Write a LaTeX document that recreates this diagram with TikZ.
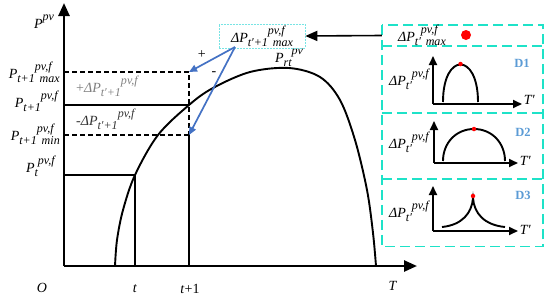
\documentclass[tikz,border=0pt]{standalone}
\usepackage{graphicx}
\usepackage{fontspec}
\setmainfont{Liberation Serif}
\usetikzlibrary{positioning,calc,arrows.meta}
\definecolor{arrowblue}{RGB}{68,114,196}
\definecolor{paneltq}{RGB}{30,226,200}
\definecolor{boxcyan}{RGB}{120,228,228}
\definecolor{dblue}{RGB}{91,155,213}
% script helpers for the labels
\newcommand{\sbs}[1]{\raisebox{-0.28em}{\scalebox{0.86}{#1}}}
\newcommand{\sps}[1]{\raisebox{0.56em}{\scalebox{0.86}{#1}}}
\newcommand{\pvA}[3]{\textit{#1\sbs{#2}\sps{#3}}}
\newcommand{\pvB}[4]{\textit{#1\sbs{#2}\rlap{\sps{#3}}\kern0.35em\sbs{#4}}}

\begin{document}
\begin{tikzpicture}[
    x=1pt, y=-1pt,
    lab/.style={font=\fontsize{14}{16}\selectfont, inner sep=1pt},
    small/.style={font=\fontsize{14}{16}\selectfont, inner sep=1pt},
    axis/.style={line width=2.5pt, -{Triangle[length=13pt, width=11pt]}},
    miniaxis/.style={line width=1.9pt, -{Triangle[length=9pt, width=8pt]}},
    curve/.style={line width=1.9pt},
    guide/.style={line width=1.6pt, dash pattern=on 5pt off 3pt},
    solidline/.style={line width=1.6pt},
    bluearrow/.style={arrowblue, line width=1.7pt, -{Triangle[length=8pt, width=7pt]}},
    panel/.style={paneltq, line width=1.8pt, dash pattern=on 10pt off 5pt},
    cell/.style={inner sep=0pt, minimum width=161pt},
    dot/.style={circle, fill=red, inner sep=0pt, minimum size=#1},
    dlab/.style={font=\bfseries\fontsize{12.5}{14}\selectfont, text=dblue},
]
\useasboundingbox (0,0) rectangle (550,298);

% Axes
\coordinate (O) at (64,266);
\coordinate (ytip) at (64,3);
\coordinate (xtip) at (417,266);
\draw[axis] (O) -- (ytip);
\draw[axis] (O) -- (xtip);
\node[lab] (lO) at (42,288) {\textit{O}};
\node[lab] (lt) at (135,289) {\textit{t}};
\node[lab] (lt1) at (190,289) {\textit{t}+1};
\node[lab] (lT) at (393,286) {\textit{T}};
\node[lab] (lP) at (44,22) {\textit{P\sps{pv}}};

% Forecast curve
\draw[curve] plot[smooth, tension=0.55] coordinates {(115,266) (117,240) (123,210) (135,175) (158,135) (189,105) (213,88) (250,72) (289,68) (320,77) (340,100) (355,140) (367,190) (373,233) (376,266)};
\coordinate (peak) at (289,68);
\node[lab, above=0pt of peak] (lrt) {\textit{P\sbs{rt}\sps{pv}}};

% Levels at t and t+1
\coordinate (yt) at (64,175);
\coordinate (ct) at (135,175);
\coordinate (bt) at (135,266);
\draw[solidline] (yt) -- (ct) -- (bt);
\node[lab, anchor=east] (lPt) at (56,166) {\pvA{P}{t}{pv,f}};

\coordinate (ymax) at (64,72);
\coordinate (tmax) at (189,72);
\coordinate (ymid) at (64,105);
\coordinate (tmid) at (189,105);
\coordinate (ymin) at (64,135);
\coordinate (tmin) at (189,135);
\coordinate (tbot) at (189,266);
\draw[guide] (ymax) -- (tmax) -- (tmin);
\draw[guide] (ymin) -- (tmin);
\draw[solidline] (ymid) -- (tmid);
\draw[solidline] (tmin) -- (tbot);
\node[lab, anchor=east] (lmax) at (61,72) {\pvB{P}{t+1}{pv,f}{max}};
\node[lab, anchor=east] (lmid) at (59,101) {\pvA{P}{t+1}{pv,f}};
\node[lab, anchor=east] (lmin) at (61,134) {\pvB{P}{t+1}{pv,f}{min}};
\node[lab, text=black!50, anchor=west] (lplus) at (75,86) {+\pvA{ΔP}{t′+1}{pv,f}};
\node[lab, text=black!80, anchor=west] (lminus) at (75,119) {-\pvA{ΔP}{t′+1}{pv,f}};

% Max deviation box
\node[lab, draw=boxcyan, line width=0.6pt, dash pattern=on 2pt off 1pt, minimum width=86pt, minimum height=21pt, inner sep=2pt] (tbox) at (262,36) {\pvB{ΔP}{t′+1}{pv,f}{max}};
\coordinate (src) at (235,47);
\draw[bluearrow] (src) -- node[lab, text=black, pos=0.55, above left=0pt and 2pt] {+} (tmax);
\draw[bluearrow] (src) -- node[lab, text=black, pos=0.3, left=3pt] {-} (tmin);

% Right panel
\node[cell, minimum height=21pt] (cell0) at (462.5,35.5) {};
\node[cell, minimum height=66pt, below=0pt of cell0] (cell1) {};
\node[cell, minimum height=66pt, below=0pt of cell1] (cell2) {};
\node[cell, minimum height=67pt, below=0pt of cell2] (cell3) {};
\draw[panel] (cell0.north west) rectangle (cell3.south east);
\draw[panel] (cell0.south west) -- (cell0.south east);
\draw[panel] (cell1.south west) -- (cell1.south east);
\draw[panel] (cell2.south west) -- (cell2.south east);
\draw[line width=1.6pt, -{Triangle[length=12pt, width=10pt]}] (cell0.west) -- (tbox.east);
\node[lab] (l0) at (422,35) {\pvB{ΔP}{t′}{pv,f}{max}};
\node[dot=10pt] (r0) at (466,35) {};

% D1
\coordinate (o1) at (433,104);
\draw[miniaxis] (o1) -- ++(0,-48);
\draw[miniaxis] (o1) -- ++(89,0) node[small, right, yshift=4pt] (x1) {\textit{T′}};
\draw[curve] (443,102) .. controls (443,52) and (478,52) .. (478,102);
\node[dot=4.5pt] (r1) at (460.5,64) {};
\node[small] (y1) at (409,79) {\pvA{ΔP}{t′}{pv,f}};
\node[dlab] (d1) at (522,63) {D1};

% D2
\coordinate (o2) at (434,163);
\draw[miniaxis] (o2) -- ++(0,-42);
\draw[miniaxis] (o2) -- ++(84,0) node[small, right, yshift=2pt] (x2) {\textit{T′}};
\draw[curve] (443,161) .. controls (443,143) and (456,129) .. (474,129) .. controls (492,129) and (505,143) .. (505,161);
\node[dot=4.5pt] (r2) at (474,129) {};
\node[small] (y2) at (409,142) {\pvA{ΔP}{t′}{pv,f}};
\node[dlab] (d2) at (523,132) {D2};

% D3
\coordinate (o3) at (433,231);
\draw[miniaxis] (o3) -- ++(0,-45);
\draw[miniaxis] (o3) -- ++(85,0) node[small, right, yshift=1pt] (x3) {\textit{T′}};
\draw[curve] (442,227) .. controls (462,225) and (472,213) .. (473,198) .. controls (474,213) and (484,225) .. (505,227);
\node[dot=4.5pt] (r3) at (473,196) {};
\node[small] (y3) at (409,211) {\pvA{ΔP}{t′}{pv,f}};
\node[dlab] (d3) at (523,195) {D3};
\end{tikzpicture}
\end{document}
